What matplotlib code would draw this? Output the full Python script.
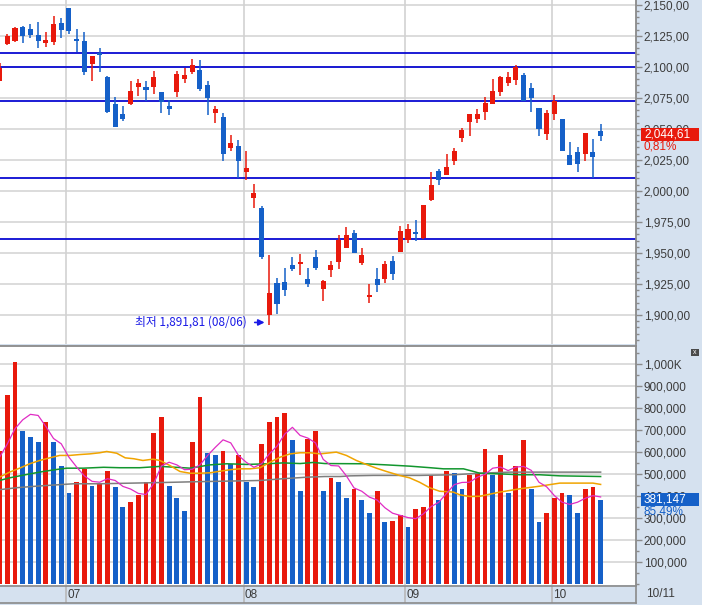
import numpy as np
import matplotlib.pyplot as plt
from matplotlib.patches import Rectangle
from matplotlib.ticker import MultipleLocator

plt.rcParams['font.family'] = ['Liberation Sans', 'DejaVu Sans']

# daily candles, index 0 is the half hidden first day on the left edge
opens = [2088.8, 2118.6, 2121.0, 2132.0, 2130.4, 2125.6, 2119.4, 2120.2, 2135.3, 2147.3,
         2122.4, 2120.8, 2101.9, 2111.0, 2091.7, 2070.0, 2062.0, 2070.0, 2083.4, 2083.7,
         2084.0, 2079.7, 2068.4, 2080.0, 2089.8, 2095.5, 2097.4, 2085.5, 2063.0, 2059.5,
         2034.8, 2036.2, 2014.9, 1994.3, 1986.2, 1900.0, 1926.0, 1926.8, 1940.3, 1941.1,
         1929.0, 1946.7, 1921.0, 1936.3, 1942.7, 1954.0, 1966.1, 1941.9, 1914.5, 1929.0,
         1929.0, 1943.5, 1950.7, 1960.4, 1966.9, 1962.1, 1992.6, 2016.0, 2013.0, 2024.1,
         2042.6, 2055.5, 2058.2, 2063.8, 2070.0, 2079.9, 2086.9, 2089.3, 2093.4, 2082.9,
         2066.8, 2045.5, 2061.9, 2057.9, 2028.6, 2031.3, 2029.4, 2031.0, 2048.3]
highs = [2103.3, 2126.4, 2132.0, 2132.8, 2134.5, 2136.1, 2128.0, 2140.9, 2139.3, 2147.3,
         2130.4, 2128.0, 2108.7, 2115.1, 2092.4, 2075.6, 2068.4, 2088.5, 2090.1, 2088.5,
         2096.6, 2079.7, 2073.2, 2096.6, 2099.0, 2106.3, 2105.5, 2088.5, 2068.4, 2062.7,
         2045.0, 2041.0, 2032.1, 2005.5, 1987.8, 1948.3, 1930.0, 1938.1, 1946.7, 1949.1,
         1937.9, 1952.6, 1928.4, 1943.5, 1964.5, 1970.9, 1968.5, 1954.0, 1925.0, 1937.9,
         1943.5, 1947.5, 1971.7, 1973.3, 1976.5, 1988.6, 2015.2, 2017.6, 2029.7, 2034.5,
         2050.7, 2062.2, 2065.9, 2075.6, 2090.1, 2092.6, 2095.8, 2101.4, 2095.0, 2086.9,
         2066.8, 2065.2, 2077.2, 2057.9, 2039.4, 2035.4, 2046.9, 2041.5, 2053.9]
lows = [2088.8, 2117.2, 2120.0, 2119.1, 2123.4, 2114.8, 2115.6, 2117.5, 2123.2, 2126.4,
        2111.9, 2093.0, 2088.8, 2096.1, 2063.0, 2051.7, 2056.0, 2069.2, 2076.5, 2072.4,
        2078.3, 2063.0, 2060.8, 2075.9, 2087.2, 2094.4, 2080.1, 2060.8, 2054.4, 2024.3,
        2032.4, 2010.4, 2008.8, 1986.2, 1945.1, 1891.8, 1901.0, 1915.5, 1935.5, 1932.2,
        1922.6, 1936.3, 1911.4, 1930.6, 1937.1, 1954.0, 1949.9, 1940.3, 1909.8, 1918.5,
        1925.8, 1928.4, 1950.7, 1958.0, 1959.6, 1961.3, 1991.8, 2004.7, 2013.0, 2020.8,
        2039.4, 2044.2, 2054.7, 2057.1, 2070.0, 2076.5, 2084.5, 2085.3, 2072.4, 2063.6,
        2044.2, 2041.0, 2057.1, 2031.8, 2020.5, 2015.5, 2024.3, 2010.4, 2039.9]
closes = [2099.2, 2124.8, 2131.2, 2124.8, 2125.8, 2121.0, 2121.6, 2134.5, 2129.6, 2128.8,
          2121.0, 2095.5, 2108.7, 2109.8, 2063.8, 2051.7, 2058.2, 2080.5, 2086.9, 2081.3,
          2091.7, 2071.9, 2066.2, 2094.2, 2093.6, 2101.4, 2081.8, 2074.5, 2066.0, 2029.4,
          2038.6, 2024.3, 2018.1, 1998.3, 1946.7, 1917.7, 1909.1, 1920.4, 1937.1, 1942.7,
          1925.1, 1937.9, 1927.6, 1940.5, 1960.4, 1964.5, 1949.9, 1948.3, 1916.1, 1924.4,
          1941.1, 1933.0, 1967.7, 1969.3, 1965.3, 1988.6, 2004.7, 2008.8, 2019.5, 2032.1,
          2049.1, 2062.2, 2062.2, 2070.8, 2080.5, 2091.7, 2091.7, 2099.8, 2072.4, 2074.5,
          2049.5, 2062.7, 2072.4, 2031.8, 2020.5, 2021.3, 2046.9, 2027.5, 2044.6]

# volume in thousands
volumes = [601, 860, 1006, 692, 669, 642, 737, 642, 537, 410,
           460, 519, 446, 455, 514, 437, 350, 373, 401, 460,
           683, 760, 446, 391, 328, 646, 851, 596, 587, 605,
           546, 587, 460, 437, 637, 737, 760, 774, 651, 423,
           660, 696, 419, 478, 460, 387, 432, 378, 323, 423,
           282, 285, 314, 259, 337, 346, 492, 382, 510, 501,
           428, 492, 504, 610, 492, 587, 414, 533, 651, 428,
           282, 323, 387, 410, 401, 319, 432, 441, 381]

# volume moving averages
ma5 = [575, 635, 705, 745, 770, 765, 715, 660, 636, 575,
       530, 490, 465, 461, 477, 469, 442, 430, 410, 405,
       455, 535, 552, 540, 518, 520, 540, 583, 620, 654,
       640, 583, 552, 529, 545, 590, 625, 680, 711, 674,
       662, 640, 565, 537, 535, 490, 435, 420, 393, 380,
       345, 320, 310, 300, 295, 317, 350, 370, 410, 450,
       460, 461, 484, 497, 525, 530, 514, 530, 533, 515,
       461, 440, 400, 370, 360, 370, 388, 400, 394]
ma20_x = [0, 1.3, 2.6, 3.9, 5.2, 6.5, 7.8, 9.1, 10.4, 11.7, 13, 13.9, 15.2, 16.3, 17.4,
          18.6, 19.9, 20.8, 22.1, 23.4, 24.7, 26, 27.3, 28.6, 29.9, 31.2, 32.5, 33.8,
          35.1, 36.4, 37.7, 39, 40.3, 41.6, 43.7, 45, 46.3, 47.6, 48.9, 50.2, 51.9,
          53.2, 54.5, 55.8, 57.1, 58.9, 59.7, 61, 62.3, 64.9, 67.5, 70.1, 72.7, 75.3, 77, 78]
ma20_y = [484, 507, 525, 545, 560, 572, 583, 583, 587, 590, 595, 601, 593, 572, 568,
          560, 566, 560, 537, 510, 502, 502, 504, 511, 518, 522, 522, 527,
          552, 575, 590, 595, 595, 590, 598, 583, 560, 542, 525, 510, 492,
          481, 461, 436, 420, 416, 404, 396, 397, 416, 431, 443, 457, 457, 457, 451]
ma60_x = [0, 1.3, 2.6, 4.4, 5.7, 7.4, 8.7, 10.9, 13.5, 15.6, 18.2, 20.8, 23.4, 24.7,
          27.3, 29.5, 32.1, 34.7, 36.8, 39, 40.7, 42.2, 47.2, 50.2, 53.3, 55.9, 57.6,
          60.2, 61.5, 62.3, 64.9, 67.5, 70.1, 72.7, 78]
ma60_y = [469, 481, 490, 502, 510, 519, 525, 525, 529, 527, 527, 533, 528, 525,
          540, 545, 542, 545, 549, 546, 551, 546, 545, 540, 534, 527, 522,
          522, 510, 502, 499, 495, 495, 490, 487]
ma120_x = [0, 2.2, 4.4, 6.5, 9.6, 13, 17.3, 21.5, 25.1, 29.5, 33.8, 36.8, 39.9, 42.2,
           44.2, 45.5, 48.5, 54.5, 58.9, 62.3, 66.2, 78]
ma120_y = [427, 436, 442, 447, 454, 454, 457, 460, 463, 466, 469, 477, 484, 487,
           487, 490, 492, 492, 495, 502, 507, 507]

levels = [2110.8, 2100.0, 2072.4, 2010.3, 1961.0]
month_start = [9, 32, 53, 72]
month_labels = ['07', '08', '09', '10']
price_ticks = [1900, 1925, 1950, 1975, 2000, 2025, 2050, 2075, 2100, 2125, 2150]
vol_ticks = [100, 200, 300, 400, 500, 600, 700, 800, 900, 1000]

RED = '#e8190c'
BLUE = '#1560c8'
LEVEL = '#0a0ad2'
PANEL = '#d5e1ef'
GRID = '#d2d2d2'
AXIS = '#8a8a8a'
TXT = '#3c3c3c'

W, H = 702, 605


def fx(px):
    return px / W


def fy(py):
    return 1 - py / H


fig = plt.figure(figsize=(W / 100, H / 100), dpi=100, facecolor=PANEL)
ax1 = fig.add_axes([0, fy(344), fx(636), 344 / H])
ax2 = fig.add_axes([0, fy(585), fx(636), (585 - 345.5) / H], sharex=ax1)
ax3 = fig.add_axes([0, fy(603), fx(636), (603 - 586) / H], sharex=ax1)

x = np.arange(len(closes))
o = np.array(opens)
c = np.array(closes)
up = c >= o
ccol = np.where(up, RED, BLUE)
vol = np.array(volumes)
vcol = [RED] + [RED if vol[i] >= vol[i - 1] else BLUE for i in range(1, len(vol))]

# price panel
for p in price_ticks:
    ax1.axhline(p, color=GRID, lw=1.1, zorder=0)
for ax in (ax1, ax2, ax3):
    for m in month_start:
        ax.axvline(m - 0.33, color=GRID if ax is not ax3 else '#b8b8b8', lw=1.2, zorder=0)
for lv in levels:
    ax1.axhline(lv, color=LEVEL, lw=1.3, zorder=2)

ax1.vlines(x, lows, highs, colors=ccol, lw=1.1, zorder=3)
body = np.maximum(np.abs(c - o), 0.9)
ax1.bar(x, body, bottom=np.minimum(o, c), width=0.66, color=ccol, zorder=4)

ax1.text(32.1, 1894, '최저 1,891,81 (08/06)', ha='right', va='center', fontsize=8.5,
         color='#1a1ae6', family=['Noto Sans CJK KR', 'DejaVu Sans'])
ax1.annotate('', xy=(34.75, 1894), xytext=(32.75, 1894),
             arrowprops=dict(arrowstyle='-|>', color='#1a1ae6', lw=1.2, mutation_scale=9))

ax1.set_xlim(0.053, 82.59)
ax1.set_ylim(2150 - (344 - 4.7) / 1.2412, 2150 + 4.7 / 1.2412)

# volume panel
for v in vol_ticks:
    ax2.axhline(v, color=GRID, lw=1.1, zorder=0)
ax2.bar(x, vol, width=0.62, color=vcol, zorder=2)
ax2.plot(ma120_x, ma120_y, color='#7e7e7e', lw=1.1, zorder=3)
ax2.plot(ma60_x, ma60_y, color='#12962e', lw=1.1, zorder=3)
ax2.plot(ma20_x, ma20_y, color='#f0a400', lw=1.1, zorder=3)
ax2.plot(x, ma5, color='#e02cc4', lw=0.9, zorder=4)
ax2.set_ylim(-(585 - 583.5) * 4.552, (583.5 - 345.5) * 4.552)

for ax, ticks, labels in ((ax1, price_ticks, [f'{p:,.2f}'.replace('.', ',') for p in price_ticks]),
                          (ax2, vol_ticks, ['1,000K' if v == 1000 else f'{v * 1000:,}' for v in vol_ticks])):
    ax.set_facecolor('white')
    ax.yaxis.tick_right()
    ax.set_yticks(ticks)
    ax.set_yticklabels(labels)
    ax.tick_params(axis='y', which='major', length=4, width=1, color=AXIS, pad=1.6,
                   labelsize=8.5, labelcolor=TXT)
    ax.tick_params(axis='y', which='minor', length=2, width=1, color=AXIS)
    ax.tick_params(axis='x', bottom=False, labelbottom=False)
    for s in ('left', 'bottom', 'top'):
        ax.spines[s].set_visible(False)
    ax.spines['right'].set_color(AXIS)
    ax.spines['right'].set_linewidth(1.3)
ax1.yaxis.set_minor_locator(MultipleLocator(5))
ax2.yaxis.set_minor_locator(MultipleLocator(50))
ax2.spines['top'].set_visible(True)
ax2.spines['top'].set_color(AXIS)
ax2.spines['top'].set_linewidth(1.3)

# date strip
ax3.set_facecolor(PANEL)
ax3.set_ylim(0, 1)
ax3.set_yticks([])
ax3.tick_params(axis='x', bottom=False, labelbottom=False)
ax3.spines['left'].set_visible(False)
for s in ('top', 'bottom', 'right'):
    ax3.spines[s].set_color(AXIS)
    ax3.spines[s].set_linewidth(1.2)
for m, lab in zip(month_start, month_labels):
    ax3.text(m - 0.2, 0.45, lab, ha='left', va='center', fontsize=8.5, color=TXT)
fig.text(fx(646), fy(594), '10/11', ha='left', va='center', fontsize=8.5, color=TXT)

# current value boxes on the right scale
fig.patches.append(Rectangle((fx(641), fy(140.7)), fx(58), 13 / H, transform=fig.transFigure,
                             facecolor=RED, edgecolor='none', zorder=5))
fig.text(fx(644), fy(134.2), '2,044,61', ha='left', va='center', fontsize=8.5, color='white', zorder=6)
fig.text(fx(644), fy(146.5), '0,81%', ha='left', va='center', fontsize=8.5, color=RED, zorder=6)
fig.patches.append(Rectangle((fx(641), fy(505.7)), fx(58), 12.7 / H, transform=fig.transFigure,
                             facecolor=BLUE, edgecolor='none', zorder=5))
fig.text(fx(644), fy(499.3), '381,147', ha='left', va='center', fontsize=8.5, color='white', zorder=6)
fig.text(fx(644), fy(511.8), '85,49%', ha='left', va='center', fontsize=8.5, color=BLUE, zorder=6)

# small close button of the volume pane
fig.patches.append(Rectangle((fx(691), fy(355.5)), fx(8), 7 / H, transform=fig.transFigure,
                             facecolor='#4a4a4a', edgecolor='none', zorder=5))
fig.text(fx(695), fy(352.3), 'x', ha='center', va='center', fontsize=5, color='white', zorder=6)

fig.savefig('out.png', dpi=100, facecolor=PANEL)
